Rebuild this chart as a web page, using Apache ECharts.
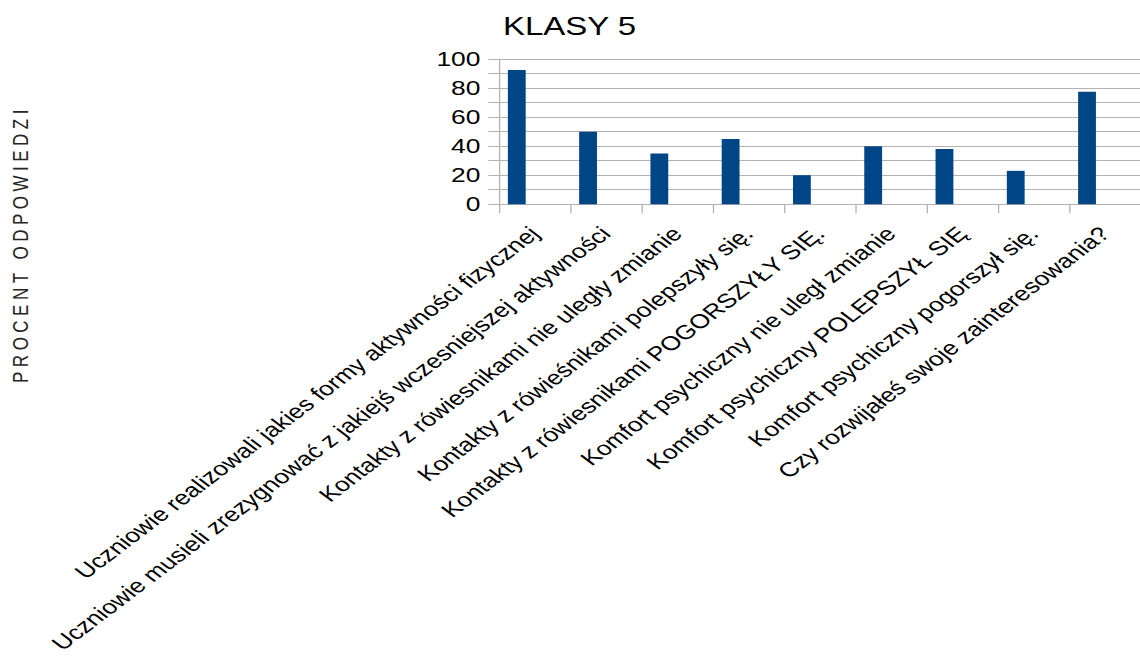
<!DOCTYPE html>
<html>
<head>
<meta charset="utf-8">
<script src="https://cdn.jsdelivr.net/npm/echarts@6/dist/echarts.min.js"></script>
<style>
  html, body { margin: 0; padding: 0; width: 1140px; height: 656px; overflow: hidden; background: #fff; }
  /* the chart is laid out narrow and widened horizontally */
  #chart { width: 864px; height: 656px; transform: scaleX(1.32); transform-origin: 0 0; }
</style>
</head>
<body>
<div id="chart"></div>
<script>
const chartTitle = 'KLASY 5';
const valueAxisTitle = 'PROCENT ODPOWIEDZI';

const categories = [
  'Uczniowie realizowali jakies formy aktywności fizycznej',
  'Uczniowie musieli zrezygnować z jakiejś wczesniejszej aktywności',
  'Kontakty z rówiesnikami nie uległy zmianie',
  'Kontakty z rówieśnikami polepszyły się.',
  'Kontakty z rówiesnikami POGORSZYŁY SIĘ.',
  'Komfort psychiczny nie uległ zmianie',
  'Komfort psychiczny POLEPSZYŁ SIĘ',
  'Komfort psychiczny pogorszył się.',
  'Czy rozwijałeś swoje zainteresowania?'
];

// percentage of answers per question
const percentValues = [92.5, 50, 35, 45, 20, 40, 38, 23, 77.5];

// two unused column slots share each category with the data column
const unusedSlotA = [null, null, null, null, null, null, null, null, null];
const unusedSlotB = [null, null, null, null, null, null, null, null, null];

const valueMin = 0;
const valueMax = 100;
const gridStep = 10;
const labelStep = 20;

const FONT = '"Liberation Sans", Arial, sans-serif';
const BAR_COLOR = '#004586';
const LINE_COLOR = '#b3b3b3';

const chart = echarts.init(document.getElementById('chart'), null, { renderer: 'svg' });

chart.setOption({
  animation: false,
  backgroundColor: '#fff',
  title: {
    text: chartTitle,
    left: 376,
    top: 9,
    textStyle: { fontFamily: FONT, fontSize: 25, fontWeight: 'normal', color: '#000' }
  },
  graphic: [{
    type: 'text',
    x: 15,
    y: 244,
    rotation: Math.PI / 2,
    style: {
      text: valueAxisTitle,
      fontFamily: FONT,
      fontSize: 17,
      fill: '#262626',
      align: 'center',
      verticalAlign: 'middle'
    }
  }],
  grid: { left: 378, top: 59, width: 491.4, height: 146, containLabel: false },
  xAxis: {
    type: 'category',
    data: categories,
    boundaryGap: true,
    axisLine: { show: true, lineStyle: { color: LINE_COLOR, width: 1 } },
    axisTick: { show: true, length: 9, lineStyle: { color: LINE_COLOR } },
    axisLabel: {
      interval: 0,
      rotate: 45,
      margin: 26,
      fontFamily: FONT,
      fontSize: 20,
      color: '#000'
    },
    splitLine: { show: false }
  },
  yAxis: {
    type: 'value',
    min: valueMin,
    max: valueMax,
    interval: gridStep,
    axisLine: { show: true, lineStyle: { color: LINE_COLOR, width: 1 } },
    axisTick: { show: true, length: 8, lineStyle: { color: LINE_COLOR } },
    axisLabel: {
      margin: 14,
      fontFamily: FONT,
      fontSize: 20,
      color: '#000',
      formatter: v => (v % labelStep === 0 ? String(v) : '')
    },
    splitLine: { show: true, lineStyle: { color: LINE_COLOR, width: 1 } }
  },
  series: [
    {
      type: 'bar',
      data: percentValues,
      itemStyle: { color: BAR_COLOR },
      barGap: '0%',
      barCategoryGap: '25%'
    },
    { type: 'bar', data: unusedSlotA, barGap: '0%', barCategoryGap: '25%' },
    { type: 'bar', data: unusedSlotB, barGap: '0%', barCategoryGap: '25%' }
  ]
});

// spread the letters of the vertical axis caption
function spaceAxisCaption() {
  document.querySelectorAll('#chart svg text').forEach(t => {
    if (t.textContent === valueAxisTitle) {
      t.style.letterSpacing = '4.5px';
    }
  });
}
spaceAxisCaption();
chart.on('finished', spaceAxisCaption);
</script>
</body>
</html>
